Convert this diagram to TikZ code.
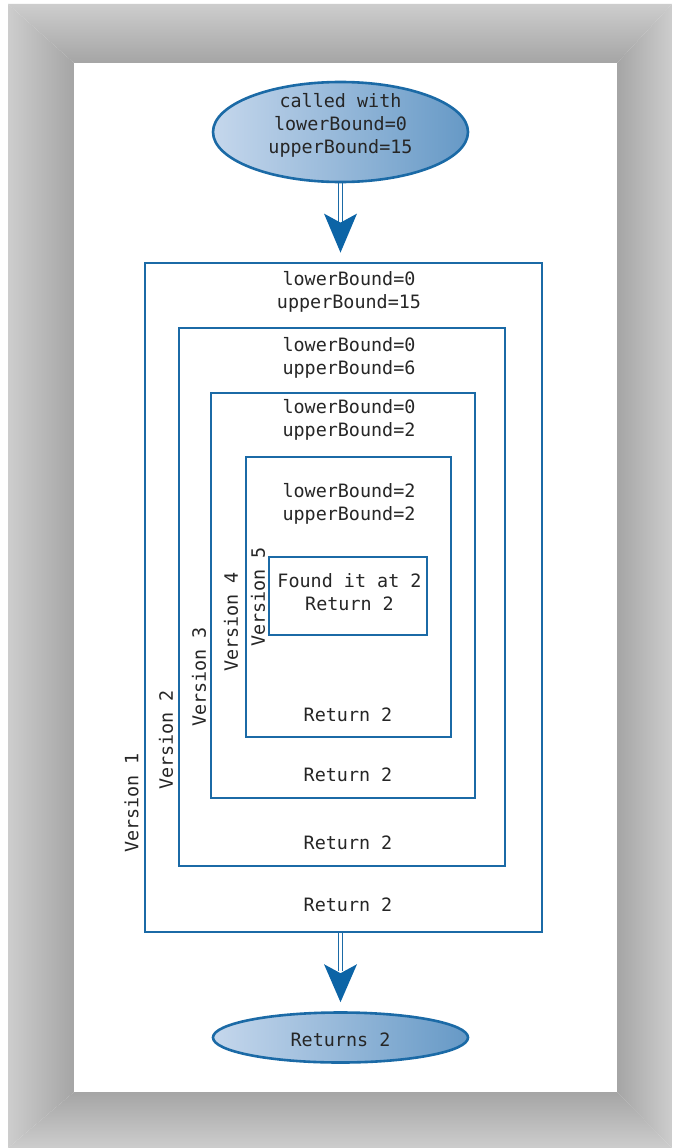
\documentclass[tikz,border=0pt]{standalone}
\usepackage{fontspec}
\setmonofont{DejaVu Sans Mono}
\usetikzlibrary{shapes.geometric}
\definecolor{lineblue}{HTML}{1B6AA6}
\definecolor{arrowblue}{HTML}{0C64A6}
\definecolor{ellL}{HTML}{C5D7EC}
\definecolor{ellR}{HTML}{6699C6}
\definecolor{ink}{HTML}{262626}
\definecolor{frameL}{HTML}{CDCDCD}
\definecolor{frameD}{HTML}{A5A5A5}
\tikzset{
  txt/.style={font=\ttfamily\fontsize{18.4}{23}\selectfont, text=ink, align=center, inner sep=0pt},
  vbox/.style={draw=lineblue, line width=2.8pt, rectangle, inner sep=0pt},
  oval/.style={ellipse, draw=lineblue, line width=2.6pt, left color=ellL, right color=ellR, inner sep=0pt},
  shaft/.style={draw=lineblue, line width=1.3pt},
  headfill/.style={fill=arrowblue},
  vlabel/.style={txt, rotate=90}
}
\begin{document}
\begin{tikzpicture}[x=1pt,y=-1pt]
\useasboundingbox (0,0) rectangle (672,1148);
\fill[white] (0,0) rectangle (672,1148);
% frame
\shade[left color=frameL, right color=frameD] (8,4) -- (74,63) -- (74,1092) -- (8,1148) -- cycle;
\shade[top color=frameL, bottom color=frameD] (8,4) -- (672,4) -- (617,63) -- (74,63) -- cycle;
\shade[left color=frameD, right color=frameL] (617,63) -- (672,4) -- (672,1148) -- (617,1092) -- cycle;
\shade[top color=frameD, bottom color=frameL] (74,1092) -- (617,1092) -- (672,1148) -- (8,1148) -- cycle;
\fill[white] (74,63) rectangle (617,1092);

% ellipses
\node[oval, minimum width=255pt, minimum height=100pt] (call) at (340.5,132) {};
\node[txt] (calltxt) at (340.5,125) {called with\\lowerBound=0\\upperBound=15};
\node[oval, minimum width=255pt, minimum height=50pt] (ret) at (340.5,1037.5) {};
\node[txt] (rettxt) at (340.5,1040) {Returns 2};

% boxes
\node[vbox, minimum width=397pt, minimum height=669pt] (v1) at (343.5,597.5) {};
\node[vbox, minimum width=326pt, minimum height=538pt] (v2) at (342,597) {};
\node[vbox, minimum width=264pt, minimum height=405pt] (v3) at (343,595.5) {};
\node[vbox, minimum width=205pt, minimum height=280pt] (v4) at (348.5,597) {};
\node[vbox, minimum width=158pt, minimum height=78pt] (v5) at (348,596) {};

% header texts
\node[txt] (h1) at (349,292) {lowerBound=0\\upperBound=15};
\node[txt] (h2) at (349,358) {lowerBound=0\\upperBound=6};
\node[txt] (h3) at (349,420) {lowerBound=0\\upperBound=2};
\node[txt] (h4) at (349,504) {lowerBound=2\\upperBound=2};
\node[txt] (h5) at (349.5,592) {Found it at 2\\Return 2};

% return texts
\node[txt] (r4) at (348,715) {Return 2};
\node[txt] (r3) at (348,775) {Return 2};
\node[txt] (r2) at (348,843) {Return 2};
\node[txt] (r1) at (348,905) {Return 2};

% version labels
\node[vlabel] (l1) at (131.5,803) {Version 1};
\node[vlabel] (l2) at (166,740) {Version 2};
\node[vlabel] (l3) at (199,677) {Version 3};
\node[vlabel] (l4) at (231,622) {Version 4};
\node[vlabel] (l5) at (258,597) {Version 5};

% arrow 1
\coordinate (t1) at ([yshift=9pt]call.south |- v1.north);
\draw[shaft] ([xshift=-1.8pt]call.south) -- ([xshift=-1.8pt,yshift=31pt]t1);
\draw[shaft] ([xshift=1.8pt]call.south) -- ([xshift=1.8pt,yshift=31pt]t1);
\fill[headfill] (t1) -- ++(-16.5,-39) -- ++(16.5,9) -- ++(16.5,-9) -- cycle;

% arrow 2
\coordinate (t2) at ([yshift=9pt]ret.north);
\coordinate (s2) at (ret.north |- v1.south);
\draw[shaft] ([xshift=-1.8pt]s2) -- ([xshift=-1.8pt,yshift=31pt]t2);
\draw[shaft] ([xshift=1.8pt]s2) -- ([xshift=1.8pt,yshift=31pt]t2);
\fill[headfill] (t2) -- ++(-16.5,-38) -- ++(16.5,9) -- ++(16.5,-9) -- cycle;
\end{tikzpicture}
\end{document}
